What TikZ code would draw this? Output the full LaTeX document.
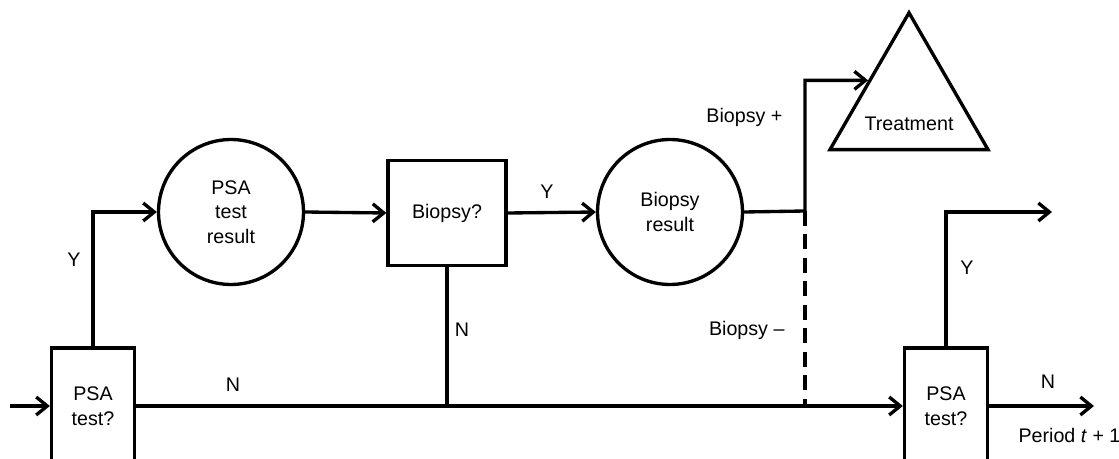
\documentclass[tikz,border=0pt]{standalone}
\usepackage{fontspec}
\setmainfont{Liberation Sans}
\usetikzlibrary{arrows.meta,shapes.geometric}

\begin{document}
\begin{tikzpicture}[x=0.02cm,y=-0.02cm,line width=1.9pt,
    font=\fontsize{11.2}{14}\selectfont,
    arr/.style={-{Straight Barb[length=0.22cm,width=0.36cm]}},
    decbox/.style={draw,rectangle,align=center,inner sep=0pt},
    chance/.style={draw,circle,align=center,inner sep=0pt,minimum size=2.9cm},
    term/.style={draw,regular polygon,regular polygon sides=3,inner sep=0pt,minimum size=3.65cm}]
    \useasboundingbox (0,0) rectangle (1119,459);
    % nodes
    \node[decbox,minimum width=1.66cm,minimum height=2.32cm] (psa1) at (93,406) {PSA\\test?};
    \node[chance] (psares) at (231,212) {PSA\\test\\result};
    \node[decbox,minimum width=2.36cm,minimum height=2.1cm] (bxbiopsy) at (447,213) {Biopsy?};
    \node[chance] (bres) at (670,212) {Biopsy\\result};
    \node[term] (treat) at (909,104) {};
    \node at (909,124) {Treatment};
    \node[decbox,minimum width=1.66cm,minimum height=2.32cm] (psa2) at (946,406) {PSA\\test?};
    \coordinate (start) at (10,406);
    \coordinate (split) at (805,211);
    \coordinate (join) at (805,406);
    \coordinate (merge) at (447,406);
    \coordinate (nextY) at (1052,212);
    \coordinate (nextN) at (1094,406);
    % connectors
    \draw[arr] (start) -- (psa1.west);
    \draw[arr] (psa1.north) |- (psares.west);
    \draw[arr] (psares.east) -- (bxbiopsy.west);
    \draw[arr] (bxbiopsy.east) -- (bres.west);
    \draw[arr] (bres.east) -- (split) |- (treat.side 1);
    \draw[dash pattern=on 0.3cm off 0.17cm] (split) -- (join);
    \draw (bxbiopsy.south) -- (merge);
    \draw[arr] (psa1.east) -- (psa2.west);
    \draw[arr] (psa2.north) |- (nextY);
    \draw[arr] (psa2.east) -- (nextN);
    % labels
    \node at (74,260) {Y};
    \node at (233,385) {N};
    \node at (547,192) {Y};
    \node at (462,330) {N};
    \node at (790,117) [anchor=east] {Biopsy +};
    \node at (792,330) [anchor=east] {Biopsy --};
    \node at (967,268) {Y};
    \node at (1048,382) {N};
    \node at (1011,435) [anchor=west] {Period \textit{t} + 1};
\end{tikzpicture}
\end{document}
